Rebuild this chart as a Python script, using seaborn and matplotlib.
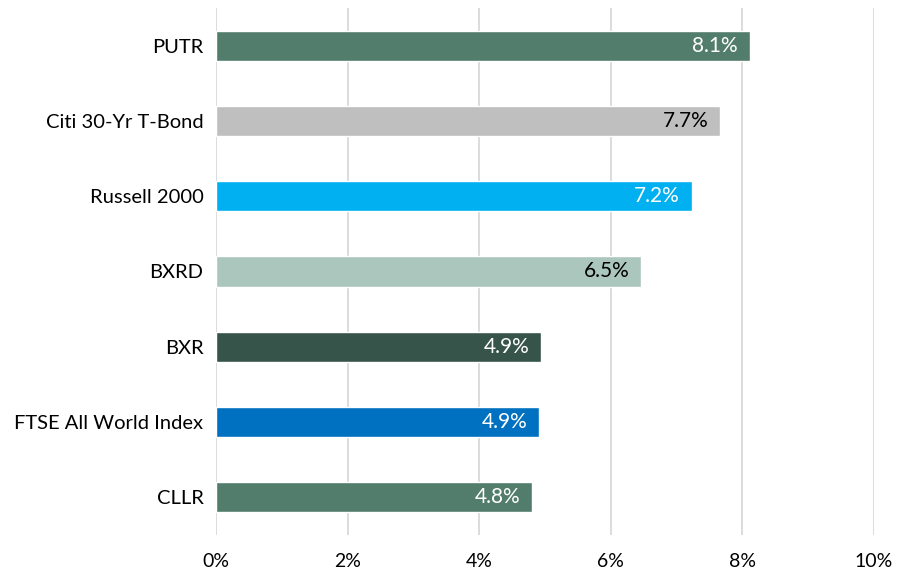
import pandas as pd
import matplotlib.pyplot as plt
import seaborn as sns
from matplotlib.ticker import FuncFormatter

# values (bar ends), labels show one decimal
categories = ['PUTR', 'Citi 30-Yr T-Bond', 'Russell 2000', 'BXRD', 'BXR',
              'FTSE All World Index', 'CLLR']
returns = [8.11, 7.66, 7.23, 6.46, 4.94, 4.91, 4.80]
bar_colors = ['#527D6D', '#BFBFBF', '#00B0F0', '#ABC7BD', '#37544A', '#0070C0', '#527D6D']
label_colors = ['white', 'black', 'white', 'black', 'white', 'white', 'white']

df = pd.DataFrame({'name': categories, 'ret': returns})

sns.set_theme(style='white')
plt.rcParams['font.family'] = ['Lato', 'DejaVu Sans']

fig = plt.figure(figsize=(9.06, 5.75), dpi=100)
ax = fig.add_axes([0.2384, 0.0696, 0.7263, 0.9165])

sns.barplot(data=df, x='ret', y='name', hue='name', palette=dict(zip(categories, bar_colors)),
            width=0.4, legend=False, ax=ax, saturation=1)

# data labels inside the bar ends
for i, (v, c) in enumerate(zip(returns, label_colors)):
    ax.annotate(f'{v:.1f}%', xy=(v, i), xytext=(-8.5, 0), textcoords='offset points',
                ha='right', va='center', color=c, fontsize=15)

ax.set_xlim(0, 10)
ax.set_ylim(6.5, -0.5)
ax.set_xticks([0, 2, 4, 6, 8, 10])
ax.xaxis.set_major_formatter(FuncFormatter(lambda x, _: f'{x:.0f}%'))
ax.grid(axis='x', color='#D9D9D9', linewidth=1.3)
ax.set_axisbelow(True)
for s in ax.spines.values():
    s.set_visible(False)
ax.set_xlabel('')
ax.set_ylabel('')
ax.tick_params(axis='x', length=0, pad=13, labelsize=14, colors='black')
ax.tick_params(axis='y', length=0, pad=9, labelsize=14.5, colors='black')

fig.savefig('out.png', dpi=100)
